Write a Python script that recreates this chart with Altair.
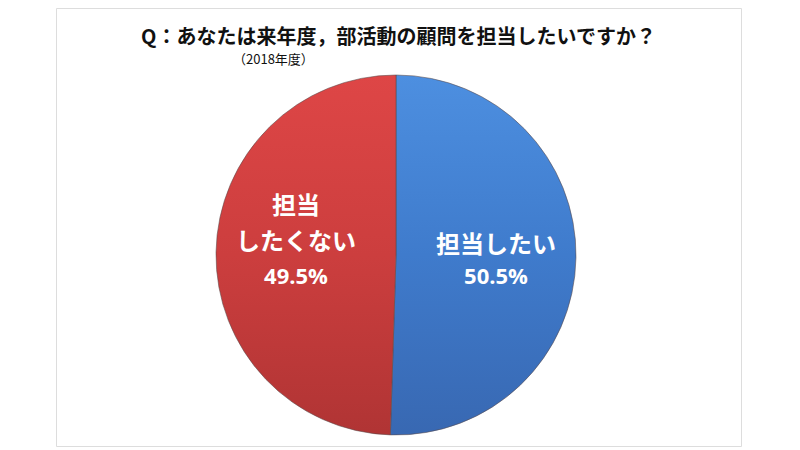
import math
import altair as alt
import pandas as pd

categories = ["担当したい", "担当したくない"]
values = [50.5, 49.5]
name_labels = ["担当したい", "担当\nしたくない"]
pct_labels = ["50.5%", "49.5%"]
order = [0, 1]

df = pd.DataFrame({
    "cat": categories,
    "value": values,
    "name": name_labels,
    "pct": pct_labels,
    "order": order,
})

FONT = "Noto Sans CJK JP"
CX, CY, R = 340, 247, 180

base = alt.Chart(df).transform_window(
    cum="sum(value)", sort=[alt.SortField("order")]
).transform_calculate(
    start="datum.cum - datum.value",
    mid="datum.cum - datum.value / 2",
)

theta_scale = alt.Scale(domain=[0, 100], range=[0, 2 * math.pi])

blue_grad = alt.LinearGradient(
    gradient="linear",
    stops=[alt.GradientStop(color="#4d8fe0", offset=0),
           alt.GradientStop(color="#3f7bcc", offset=0.5),
           alt.GradientStop(color="#3868b2", offset=1)],
    x1=0, x2=0, y1=0, y2=1,
)
red_grad = alt.LinearGradient(
    gradient="linear",
    stops=[alt.GradientStop(color="#de4646", offset=0),
           alt.GradientStop(color="#cc3e3e", offset=0.5),
           alt.GradientStop(color="#b03434", offset=1)],
    x1=0, x2=0, y1=0, y2=1,
)


def slice_layer(cat, grad):
    return base.transform_filter(alt.datum.cat == cat).mark_arc(
        fill=grad, stroke="#5a4a4a", strokeWidth=0.8, strokeOpacity=0.7
    ).encode(
        theta=alt.Theta("start:Q", scale=theta_scale),
        theta2="cum:Q",
        radius=alt.value(R),
        x=alt.value(CX),
        y=alt.value(CY),
    )


def name_layer(cat, dy):
    return base.transform_filter(alt.datum.cat == cat).mark_text(
        font=FONT, fontSize=24, fontWeight="bold", color="white",
        lineBreak="\n", lineHeight=36, baseline="middle", align="center", dy=dy,
    ).encode(
        theta=alt.Theta("mid:Q", scale=theta_scale),
        radius=alt.value(100),
        x=alt.value(CX), y=alt.value(CY),
        text="name:N",
    )


def pct_layer(cat, dy):
    return base.transform_filter(alt.datum.cat == cat).mark_text(
        font="Open Sans", fontSize=22, fontWeight="bold", color="white",
        baseline="middle", align="center", dy=dy,
    ).encode(
        theta=alt.Theta("mid:Q", scale=theta_scale),
        radius=alt.value(100),
        x=alt.value(CX), y=alt.value(CY),
        text="pct:N",
    )


subtitle = alt.Chart(pd.DataFrame({"t": ["（2018年度）"]})).mark_text(
    font=FONT, fontSize=13, color="#111111", align="left", baseline="middle",
).encode(x=alt.value(177), y=alt.value(52), text="t:N")

chart = alt.layer(
    slice_layer("担当したい", blue_grad),
    slice_layer("担当したくない", red_grad),
    name_layer("担当したい", -11),
    name_layer("担当したくない", -46),
    pct_layer("担当したい", 20),
    pct_layer("担当したくない", 24),
    subtitle,
).properties(
    width=685, height=438,
    padding={"left": 48, "top": 0, "right": 4, "bottom": 4},
    autosize=alt.AutoSizeParams(type="none"),
    title=alt.TitleParams(
        "Q：あなたは来年度，部活動の顧問を担当したいですか？",
        font=FONT, fontSize=20, fontWeight="bold", color="#111111",
        anchor="middle", offset=-40,
    ),
).configure_view(
    stroke="#888888", strokeWidth=2,
).configure(background="white")

chart.save("out.html", embed_options={"renderer": "svg", "actions": False})
